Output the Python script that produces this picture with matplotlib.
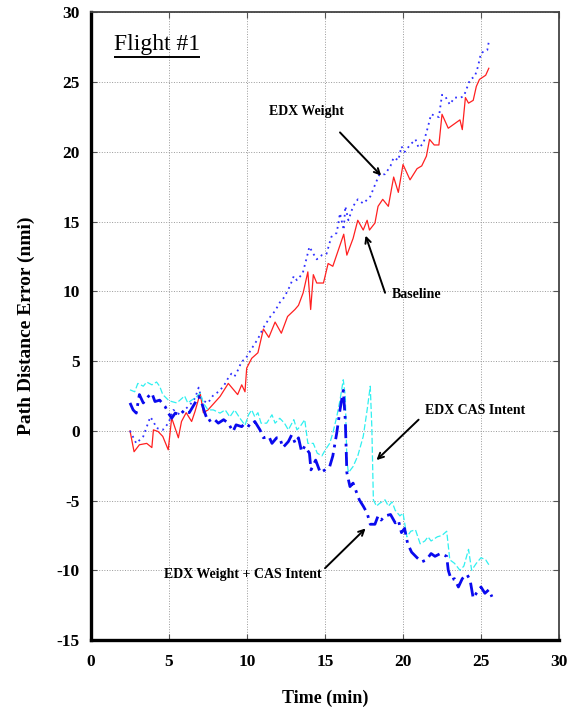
import matplotlib
matplotlib.use("Agg")
import matplotlib.pyplot as plt

plt.rcParams.update({
    "font.family": ["Liberation Serif", "DejaVu Serif"],
    "font.weight": "bold",
    "axes.unicode_minus": False,
})

# Baseline (red, solid)
base_t = [2.5, 2.76, 3.1, 3.57, 3.9, 4.0, 4.3, 4.6, 4.95, 5.17, 5.6, 5.8, 6.1,
          6.45, 6.67, 7.0, 7.2, 7.5, 8.27, 8.8, 9.4, 9.66, 9.87, 9.98, 10.3,
          10.7, 11.05, 11.4, 11.8, 12.2, 12.6, 13.07, 13.3, 13.6, 13.9, 14.08,
          14.25, 14.47, 14.9, 15.2, 15.5, 16.2, 16.4, 16.8, 17.1, 17.45, 17.7,
          17.85, 18.2, 18.4, 18.7, 19.06, 19.4, 19.7, 20.0, 20.45, 20.9, 21.2,
          21.5, 21.7, 22.0, 22.3, 22.5, 22.9, 23.65, 23.8, 24.0, 24.2, 24.5,
          24.7, 24.9, 25.3, 25.5]
base_v = [0.0, -1.5, -1.0, -0.9, -1.2, 0.07, -0.05, -0.4, -1.36, 0.93, -0.5,
          0.67, 1.3, 0.67, 1.4, 2.7, 1.3, 1.5, 2.46, 3.4, 2.6, 3.3, 2.8, 4.5,
          5.2, 5.6, 7.3, 6.7, 7.8, 7.0, 8.2, 8.7, 9.0, 9.9, 11.4, 8.7, 11.2,
          10.6, 10.6, 12.0, 11.8, 14.1, 12.6, 13.8, 15.1, 14.4, 15.1, 14.4,
          14.9, 16.1, 16.6, 16.1, 18.2, 17.1, 19.1, 18.0, 18.8, 19.0, 19.7,
          20.9, 20.5, 20.5, 22.7, 21.7, 22.3, 21.6, 23.9, 23.5, 23.7, 24.7,
          25.2, 25.5, 26.0]

# EDX Weight (blue, dotted)
wt_t = [2.5, 2.9, 3.35, 3.8, 4.0, 4.2, 4.6, 4.96, 5.28, 5.7, 6.0, 6.35, 6.67,
        6.9, 7.1, 7.5, 7.8, 8.16, 8.5, 8.8, 9.0, 9.2, 9.44, 9.66, 9.87, 10.3,
        10.7, 11.05, 11.5, 11.8, 12.1, 12.4, 12.76, 13.0, 13.2, 13.57, 13.8,
        14.0, 14.25, 14.47, 14.8, 15.1, 15.4, 15.75, 15.96, 16.2, 16.3, 16.5,
        16.8, 17.1, 17.45, 17.9, 18.3, 18.5, 18.85, 19.2, 19.4, 19.7, 19.9,
        20.1, 20.45, 20.8, 21.0, 21.3, 21.6, 21.8, 22.3, 22.5, 22.7, 23.0,
        23.3, 23.7, 23.9, 24.1, 24.3, 24.6, 24.8, 25.0, 25.4, 25.5]
wt_v = [0.0, -0.9, -0.4, 1.0, 0.67, 0.2, 0.07, 0.55, 1.5, 1.15, 1.5, 1.87,
        2.35, 3.1, 2.2, 2.0, 2.5, 2.8, 3.2, 3.8, 4.1, 3.9, 4.4, 5.0, 5.1, 5.9,
        6.6, 7.4, 8.2, 8.6, 9.2, 9.6, 10.4, 11.1, 10.8, 11.3, 12.3, 13.2, 12.7,
        12.3, 12.6, 12.7, 13.9, 14.2, 15.6, 14.4, 16.1, 15.1, 16.1, 16.6, 16.3,
        16.8, 17.9, 18.4, 18.4, 19.0, 19.6, 19.4, 20.4, 20.0, 20.5, 20.9, 20.3,
        20.6, 21.8, 22.7, 22.5, 24.1, 24.0, 23.4, 23.9, 23.9, 24.0, 24.6, 25.2,
        25.4, 26.1, 27.1, 27.3, 27.9]

# EDX CAS Intent (cyan, dashed)
cas_t = [2.5, 2.8, 3.0, 3.35, 3.57, 3.9, 4.2, 4.4, 4.6, 4.96, 5.17, 5.5, 5.7,
         6.0, 6.2, 6.45, 6.67, 7.0, 7.2, 7.5, 7.84, 8.27, 8.6, 8.9, 9.2, 9.55,
         9.87, 10.1, 10.3, 10.5, 10.7, 10.9, 11.26, 11.6, 11.8, 12.1, 12.4,
         12.65, 13.0, 13.2, 13.4, 13.7, 13.9, 14.25, 14.5, 14.8, 15.0, 15.3,
         15.5, 15.75, 15.96, 16.17, 16.3, 16.4, 16.5, 16.8, 17.1, 17.45, 17.7,
         17.9, 18.0, 18.1, 18.3, 18.5, 18.85, 19.06, 19.3, 19.5, 19.8, 20.0,
         20.25, 20.5, 20.8, 21.1, 21.4, 21.6, 21.8, 22.2, 22.5, 22.8, 23.0,
         23.3, 23.65, 23.9, 24.2, 24.4, 24.7, 25.0, 25.3, 25.5]
cas_v = [2.94, 2.8, 3.4, 3.2, 3.5, 3.3, 3.5, 3.2, 2.6, 2.2, 2.1, 2.0, 2.2, 2.5,
         2.0, 2.2, 2.35, 2.7, 2.0, 1.5, 1.5, 1.27, 1.5, 1.0, 1.5, 0.9, 0.4,
         1.15, 1.5, 1.0, 1.3, 0.55, 0.55, 1.15, 0.55, 0.9, 0.55, 0.07, 0.8,
         0.07, 0.3, 0.8, -0.9, -0.9, -1.6, -1.8, -1.4, -0.9, -0.17, 1.0, 2.2,
         3.66, 2.5, -2.1, -3.0, -2.56, -1.8, -0.4, 1.5, 3.2, 0.3, -4.95, -5.4,
         -5.2, -4.95, -5.4, -5.1, -5.7, -6.1, -5.9, -7.6, -7.2, -7.1, -8.1,
         -7.9, -7.6, -7.9, -7.6, -7.5, -7.2, -9.25, -9.5, -10.0, -9.7, -8.5,
         -10.0, -9.5, -9.1, -9.25, -9.6]

# EDX Weight + CAS Intent (blue, thick dash-dot)
both_t = [2.5, 2.7, 2.9, 3.1, 3.35, 3.67, 3.9, 4.1, 4.4, 4.75, 4.96, 5.17, 5.4,
          5.7, 6.0, 6.3, 6.67, 6.9, 7.1, 7.3, 7.5, 7.84, 8.16, 8.5, 8.8, 9.1,
          9.3, 9.66, 9.87, 10.2, 10.5, 10.83, 11.05, 11.4, 11.6, 11.9, 12.1,
          12.3, 12.65, 12.86, 13.1, 13.3, 13.5, 13.7, 14.0, 14.1, 14.4, 14.7,
          15.0, 15.3, 15.5, 15.75, 15.96, 16.17, 16.3, 16.4, 16.6, 16.8, 17.0,
          17.2, 17.45, 17.7, 17.9, 18.2, 18.4, 18.6, 18.85, 19.2, 19.5, 19.7,
          19.9, 20.1, 20.3, 20.55, 20.9, 21.2, 21.5, 21.8, 22.05, 22.4, 22.8,
          22.9, 23.1, 23.3, 23.55, 23.8, 24.1, 24.3, 24.5, 24.7, 25.0, 25.25,
          25.5, 25.7]
both_v = [2.0, 1.5, 1.27, 2.6, 2.0, 2.46, 2.7, 2.1, 2.2, 1.74, 1.27, 0.9, 1.27,
          1.15, 1.5, 1.3, 2.0, 2.46, 2.0, 1.27, 0.67, 0.9, 0.55, 0.8, 0.55,
          -0.05, 0.43, 0.3, 0.55, 0.3, 0.67, 0.07, -0.5, -0.4, -0.9, -0.5,
          -0.5, -1.2, -0.77, -0.3, -0.9, -0.5, -1.5, -1.1, -1.6, -2.8, -2.1,
          -3.0, -2.8, -2.56, -1.8, -0.17, 1.5, 2.9, 0.8, -3.0, -4.0, -3.75,
          -4.35, -4.95, -5.4, -5.9, -6.7, -6.7, -6.1, -6.4, -6.1, -6.0, -6.6,
          -6.4, -7.3, -7.0, -8.1, -8.7, -9.1, -9.4, -9.25, -8.8, -9.0, -8.8,
          -9.0, -10.0, -10.7, -10.6, -11.2, -10.6, -10.3, -10.7, -12.0, -11.65,
          -11.2, -11.65, -11.4, -11.9]

x_ticks = [0, 5, 10, 15, 20, 25, 30]
y_ticks = [-15, -10, -5, 0, 5, 10, 15, 20, 25, 30]

fig = plt.figure(figsize=(5.71, 7.10), dpi=100)
ax = fig.add_axes([0.1594, 0.0986, 0.8196, 0.8838])

ax.plot(base_t, base_v, "-", color="#ff2020", lw=0.9)
ax.plot(wt_t, wt_v, ":", color="#3030ff", lw=1.3, dashes=(1, 2.2))
ax.plot(cas_t, cas_v, "--", color="#30f0f0", lw=0.9, dashes=(5, 2))
ax.plot(both_t, both_v, "-.", color="#0a0aee", lw=2.0, dashes=(5, 2, 1, 2))

ax.set_xlim(0, 30)
ax.set_ylim(-15, 30)
ax.set_xticks(x_ticks)
ax.set_yticks(y_ticks)
ax.grid(True, ls=":", color="#999999", lw=0.7)
ax.tick_params(direction="in", length=4, width=0.8, top=True, right=True,
               labelsize=12.5, color="#555555")
ax.tick_params(axis="x", pad=10)
ax.tick_params(axis="y", pad=8)
for lab in ax.get_xticklabels() + ax.get_yticklabels():
    lab.set_fontweight("bold")

for side in ("left", "bottom"):
    ax.spines[side].set_linewidth(2.4)
    ax.spines[side].set_color("black")
for side in ("top", "right"):
    ax.spines[side].set_linewidth(1.3)
    ax.spines[side].set_color("#444444")

ax.set_xlabel("Time (min)", fontsize=13, fontweight="bold", labelpad=14)
ax.set_ylabel("Path Distance Error (nmi)", fontsize=14, fontweight="bold",
              labelpad=16)

# underlined title inside the plot
title = ax.text(1.45, 27.7, "Flight #1", fontsize=17, fontweight="normal",
                va="center", ha="left")
fig.canvas.draw()
bb = title.get_window_extent().transformed(ax.transData.inverted())
ax.plot([bb.x0, bb.x1], [bb.y0 - 0.15, bb.y0 - 0.15], color="black", lw=1.4,
        solid_capstyle="butt")

arrow = dict(arrowstyle="->", lw=1.4, color="black", shrinkA=0, shrinkB=0)
ax.text(13.8, 22.9, "EDX Weight", fontsize=10, fontweight="bold",
        ha="center", va="center")
ax.annotate("", xy=(18.6, 18.3), xytext=(15.96, 21.4), arrowprops=arrow)

ax.text(19.3, 9.8, "Baseline", fontsize=10, fontweight="bold",
        ha="left", va="center")
ax.annotate("", xy=(17.6, 14.0), xytext=(18.85, 9.9), arrowprops=arrow)

ax.text(24.6, 1.46, "EDX CAS Intent", fontsize=10, fontweight="bold",
        ha="center", va="center")
ax.annotate("", xy=(18.3, -2.1), xytext=(21.0, 0.8), arrowprops=arrow)

ax.text(9.7, -10.3, "EDX Weight + CAS Intent", fontsize=10,
        fontweight="bold", ha="center", va="center")
ax.annotate("", xy=(17.6, -7.0), xytext=(15.0, -9.85), arrowprops=arrow)

fig.savefig("out.png", dpi=100)
